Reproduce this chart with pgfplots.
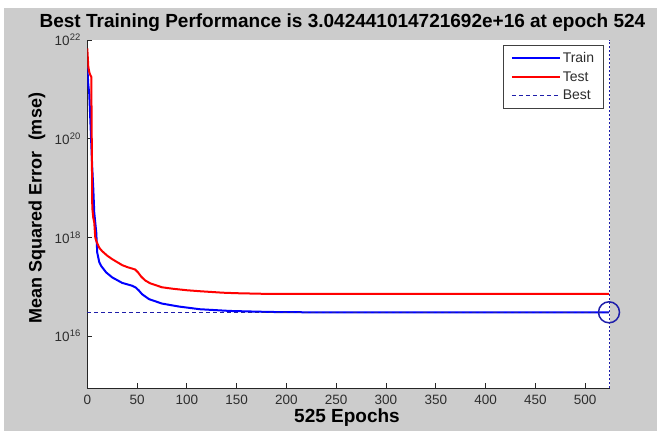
\documentclass[border=0pt]{standalone}
\usepackage{pgfplots}
\pgfplotsset{compat=1.18}
\usepackage{fontspec}
\setmainfont{Liberation Sans}
\definecolor{figgray}{RGB}{204,204,204}
\definecolor{bestblue}{RGB}{30,30,170}
\definecolor{ticktext}{RGB}{45,45,45}

\pgfplotstableread{
x y
0 2.88e21
1 1.26e21
2 7.94e20
3 2.51e20
4 7.94e19
5 2.51e19
6 1.00e19
7 3.16e18
8 2.00e18
9 1.26e18
10 4.90e17
12 3.16e17
14 2.63e17
19 1.95e17
25 1.55e17
35 1.20e17
45 1.05e17
49 9.55e16
52 8.32e16
55 7.08e16
62 5.62e16
75 4.57e16
92 3.98e16
113 3.51e16
143 3.24e16
183 3.09e16
220 3.0424e16
524 3.0424e16
}\traindata

\pgfplotstableread{
x y
0 6.76e21
1 2.88e21
2 2.24e21
3 1.95e21
4 1.78e21
5 3.98e18
6 2.51e18
7 2.00e18
8 1.00e18
9 8.51e17
12 6.17e17
15 5.25e17
20 4.27e17
25 3.63e17
30 3.16e17
35 2.75e17
40 2.51e17
45 2.34e17
48 2.24e17
51 1.95e17
54 1.62e17
58 1.35e17
63 1.18e17
68 1.09e17
75 9.77e16
86 9.12e16
100 8.51e16
113 8.13e16
136 7.59e16
150 7.41e16
183 7.16e16
524 7.16e16
}\testdata

\begin{document}
\begin{tikzpicture}[x=1pt,y=1pt]
\path[use as bounding box] (0,0) rectangle (657,431);
\fill[white] (0,0) rectangle (657,431);
\fill[figgray] (4,0) rectangle (657,423);
\begin{axis}[
  at={(87.3pt,42.5pt)}, anchor=south west,
  width=522.7pt, height=348.5pt, scale only axis,
  xmin=0, xmax=525,
  ymode=log, ymin=8.7e14, ymax=1e22,
  axis lines*=left,
  axis line style={black!85, line width=0.8pt},
  axis background/.style={fill=white},
  tick align=inside,
  major tick length=5pt,
  tick style={black!85, line width=0.8pt},
  minor tick num=0,
  xtick={0,50,100,150,200,250,300,350,400,450,500},
  xticklabels={0,50,100,150,200,250,300,350,400,450,500},
  ytick={1e16,1e18,1e20,1e22},
  yticklabels={{10\textsuperscript{16}},{10\textsuperscript{18}},{10\textsuperscript{20}},{10\textsuperscript{22}}},
  yminorticks=false,
  ticklabel style={font=\fontsize{13.5}{16}\selectfont, text=ticktext},
  xticklabel style={yshift=-3pt},
  yticklabel style={xshift=-3pt},
  clip mode=individual,
  legend style={at={(rel axis cs:0.9886,0.9856)}, anchor=north east,
    draw=black!75, line width=0.8pt, fill=white,
    font=\fontsize{14}{16}\selectfont, text=ticktext,
    inner xsep=7.5pt, inner ysep=5pt, row sep=3.5pt},
  legend cell align=left,
  legend image code/.code={\draw[#1] (0pt,0pt) -- (48pt,0pt);},
]
\addplot[blue, line width=2pt, no marks] table[x=x,y=y] {\traindata};
\addlegendentry{Train}
\addplot[red, line width=2pt, no marks] table[x=x,y=y] {\testdata};
\addlegendentry{Test}
\addplot[bestblue, line width=1pt, dash pattern=on 4pt off 3pt, no marks] coordinates {(0,3.0424e16) (525,3.0424e16)};
\addlegendentry{Best}
\addplot[bestblue, line width=1pt, dash pattern=on 2pt off 2pt, no marks, forget plot] coordinates {(524,8.7e14) (524,1e22)};
\addplot[bestblue, line width=1.5pt, only marks, mark=o, mark size=10.5pt, forget plot] coordinates {(524,3.0424e16)};
\end{axis}
\node[anchor=base, font=\fontsize{19}{22}\selectfont\bfseries] at (342.5,403.5) {Best Training Performance is 3.042441014721692e+16 at epoch 524};
\node[anchor=base, font=\fontsize{19}{22}\selectfont\bfseries] at (347,8) {525 Epochs};
\node[anchor=base, rotate=90, font=\fontsize{18}{22}\selectfont\bfseries] at (41.5,223) {Mean Squared Error\ \ (mse)};
\end{tikzpicture}
\end{document}
